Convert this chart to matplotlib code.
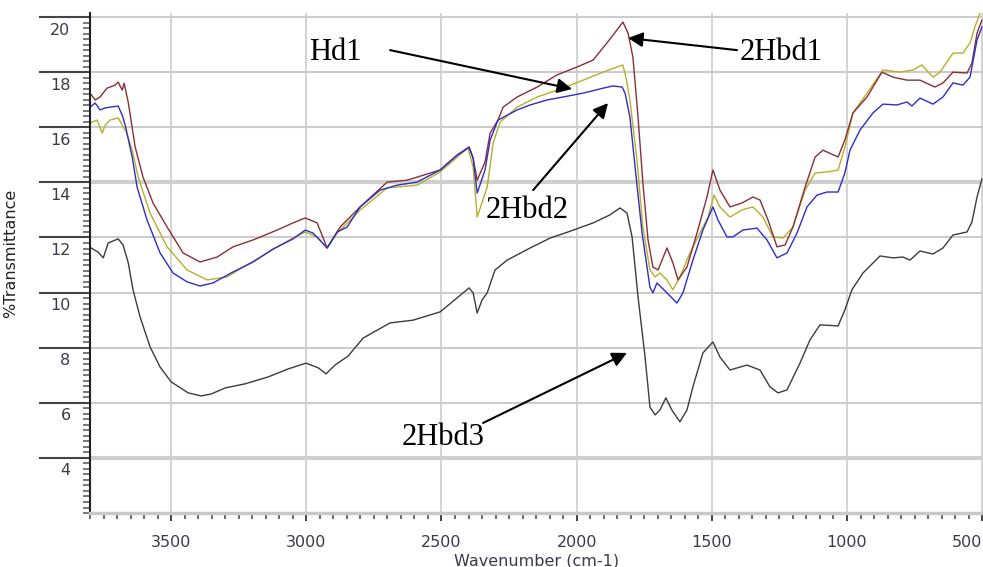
import numpy as np
import matplotlib.pyplot as plt
import matplotlib.transforms as mtransforms
from matplotlib.ticker import MultipleLocator

# Spectra (wavenumber cm-1, %T)
wn_2hbd1 = [3800, 3781, 3763, 3737, 3707, 3696, 3681, 3674, 3659, 3633, 3604, 3567, 3515, 3456, 3393,
            3330, 3271, 3197, 3108, 3049, 3004, 2960, 2923, 2875, 2801, 2701, 2627, 2505, 2442, 2398,
            2383, 2368, 2339, 2320, 2291, 2272, 2220, 2146, 2073, 1998, 1939, 1888, 1851, 1829, 1810,
            1792, 1773, 1755, 1736, 1718, 1699, 1666, 1644, 1625, 1592, 1555, 1518, 1496, 1470, 1433,
            1389, 1348, 1322, 1292, 1259, 1229, 1200, 1155, 1118, 1089, 1033, 1008, 978, 926, 871,
            830, 778, 730, 675, 645, 608, 556, 538, 519, 501]
t_2hbd1 = [17.24, 16.99, 17.10, 17.42, 17.53, 17.64, 17.35, 17.60, 16.92, 15.28, 14.19, 13.25, 12.38, 11.44, 11.11,
           11.29, 11.66, 11.91, 12.27, 12.53, 12.71, 12.53, 11.62, 12.38, 13.11, 14.01, 14.08, 14.45, 14.99, 15.28,
           14.88, 14.08, 14.74, 15.79, 16.26, 16.73, 17.10, 17.46, 17.90, 18.19, 18.44, 19.06, 19.53, 19.82, 19.42,
           18.55, 16.37, 13.98, 11.91, 10.93, 10.82, 11.62, 11.08, 10.46, 10.93, 12.16, 13.47, 14.45, 13.72, 13.11,
           13.25, 13.47, 13.36, 12.63, 11.66, 11.73, 12.38, 13.83, 14.92, 15.17, 14.92, 15.54, 16.52, 17.10, 18.00,
           17.82, 17.71, 17.71, 17.46, 17.61, 18.00, 17.97, 18.33, 19.42, 19.89]

wn_hd1 = [3800, 3774, 3755, 3744, 3726, 3696, 3681, 3666, 3644, 3622, 3578, 3515, 3441, 3367, 3293,
          3208, 3108, 3049, 3004, 2960, 2923, 2886, 2801, 2701, 2590, 2505, 2402, 2383, 2368, 2331,
          2309, 2283, 2220, 2146, 2050, 1976, 1902, 1851, 1829, 1818, 1803, 1777, 1755, 1729, 1710,
          1692, 1666, 1644, 1618, 1581, 1544, 1514, 1492, 1470, 1433, 1389, 1348, 1311, 1274, 1237,
          1200, 1155, 1118, 1074, 1033, 1008, 978, 926, 867, 804, 756, 723, 682, 656, 608,
          571, 545, 527, 508, 496]
t_hd1 = [16.15, 16.26, 15.79, 16.08, 16.26, 16.34, 16.08, 15.83, 15.17, 14.19, 12.89, 11.66, 10.82, 10.46, 10.57,
         11.07, 11.66, 11.98, 12.20, 12.02, 11.62, 12.16, 13.00, 13.80, 13.90, 14.38, 15.25, 14.56, 12.74, 13.83,
         15.43, 16.19, 16.73, 17.10, 17.42, 17.71, 18.00, 18.19, 18.26, 17.82, 16.99, 14.81, 12.38, 10.82, 10.57,
         10.71, 10.46, 10.10, 10.57, 11.44, 12.16, 12.74, 13.54, 13.11, 12.74, 13.00, 13.11, 12.74, 12.02, 11.98,
         12.38, 13.72, 14.34, 14.38, 14.45, 15.28, 16.52, 17.24, 18.08, 18.00, 18.08, 18.26, 17.82, 18.00, 18.69,
         18.69, 19.06, 19.64, 20.15, 20.60]

wn_2hbd2 = [3800, 3781, 3763, 3745, 3726, 3696, 3681, 3670, 3644, 3626, 3589, 3541, 3493, 3441, 3393,
            3345, 3271, 3197, 3123, 3049, 3004, 2975, 2923, 2886, 2849, 2801, 2727, 2664, 2590, 2505,
            2442, 2398, 2383, 2368, 2339, 2320, 2291, 2220, 2172, 2110, 2050, 1976, 1902, 1866, 1832,
            1821, 1803, 1784, 1758, 1729, 1718, 1703, 1666, 1629, 1607, 1570, 1533, 1496, 1477, 1444,
            1422, 1385, 1333, 1296, 1259, 1222, 1185, 1148, 1111, 1074, 1033, 1008, 989, 952, 904,
            867, 815, 778, 760, 730, 682, 645, 608, 571, 545, 519, 501]
t_2hbd2 = [16.73, 16.88, 16.63, 16.70, 16.73, 16.77, 16.44, 16.08, 14.92, 13.83, 12.63, 11.44, 10.71, 10.39, 10.24,
           10.35, 10.75, 11.11, 11.58, 11.95, 12.27, 12.16, 11.62, 12.20, 12.38, 13.11, 13.72, 13.90, 14.01, 14.45,
           14.99, 15.28, 14.88, 13.61, 14.45, 15.54, 16.26, 16.63, 16.81, 16.99, 17.10, 17.24, 17.42, 17.50, 17.46,
           17.24, 16.37, 14.56, 12.16, 10.20, 9.99, 10.35, 9.99, 9.62, 9.99, 11.18, 12.27, 13.11, 12.63, 12.02,
           12.02, 12.27, 12.34, 11.91, 11.26, 11.44, 12.16, 13.11, 13.54, 13.65, 13.65, 14.34, 15.17, 15.90, 16.52,
           16.84, 16.81, 16.92, 16.77, 17.06, 16.84, 17.10, 17.61, 17.53, 17.82, 19.17, 19.64]

wn_2hbd3 = [3796, 3770, 3751, 3733, 3696, 3678, 3659, 3641, 3615, 3578, 3541, 3500, 3437, 3389, 3352,
            3300, 3226, 3141, 3067, 3001, 2956, 2927, 2894, 2845, 2790, 2690, 2605, 2505, 2442, 2398,
            2383, 2368, 2350, 2331, 2302, 2257, 2172, 2098, 2032, 1939, 1877, 1840, 1814, 1795, 1773,
            1747, 1729, 1710, 1692, 1670, 1648, 1618, 1592, 1570, 1533, 1496, 1470, 1433, 1370, 1322,
            1285, 1255, 1222, 1174, 1137, 1100, 1033, 1008, 982, 941, 878, 830, 793, 767, 730,
            682, 645, 608, 556, 538, 519, 501]
t_2hbd3 = [11.62, 11.47, 11.26, 11.80, 11.95, 11.73, 11.10, 10.10, 9.12, 8.03, 7.30, 6.76, 6.36, 6.25, 6.32,
           6.54, 6.69, 6.94, 7.23, 7.44, 7.27, 7.05, 7.37, 7.70, 8.35, 8.90, 9.00, 9.30, 9.81, 10.17,
           9.99, 9.26, 9.73, 9.99, 10.82, 11.18, 11.62, 11.98, 12.20, 12.53, 12.82, 13.07, 12.89, 12.02, 9.84,
           7.66, 5.85, 5.56, 5.74, 6.18, 5.74, 5.31, 5.74, 6.58, 7.81, 8.21, 7.66, 7.19, 7.37, 7.19,
           6.58, 6.36, 6.47, 7.44, 8.28, 8.83, 8.79, 9.37, 10.10, 10.71, 11.33, 11.26, 11.29, 11.18, 11.51,
           11.40, 11.62, 12.09, 12.20, 12.56, 13.47, 14.12]

x_ticks = [3500, 3000, 2500, 2000, 1500, 1000, 500]
y_ticks = [4, 6, 8, 10, 12, 14, 16, 18, 20]

fig = plt.figure(figsize=(9.83, 5.67), dpi=100)
ax = fig.add_axes([0.0916, 0.0952, 0.9084, 0.882])

txt_col = '#3a3a4a'
grid_col = '#cccccc'

# grid
for xv in x_ticks:
    ax.axvline(xv, color=grid_col, lw=1.2, zorder=0)
for yv in y_ticks:
    thick = yv in (4, 14)
    ax.axhline(yv, color='#cfcfcf' if thick else grid_col, lw=3 if thick else 1.5, zorder=0)

ax.plot(wn_2hbd3, t_2hbd3, color='#3c3c3c', lw=1.0)
ax.plot(wn_hd1, t_hd1, color='#b5b02a', lw=1.0)
ax.plot(wn_2hbd1, t_2hbd1, color='#8b2f35', lw=1.0)
ax.plot(wn_2hbd2, t_2hbd2, color='#2e2ec8', lw=1.0)

ax.set_xlim(3800, 497)
ax.set_ylim(2, 20.15)

ax.set_xticks(x_ticks)
ax.xaxis.set_minor_locator(MultipleLocator(50))
ax.set_yticks(y_ticks)
ax.yaxis.set_minor_locator(MultipleLocator(0.2))

ax.tick_params(axis='x', which='major', length=6, width=1.3, color='#333333',
               labelsize=11.5, labelcolor=txt_col, pad=10)
ax.tick_params(axis='x', which='minor', length=4, width=1.1, color='#444444')
ax.tick_params(axis='y', which='major', length=37, width=1.5, color='#444444',
               labelsize=11.5, labelcolor=txt_col, pad=-23)
ax.tick_params(axis='y', which='minor', length=5, width=1.1, color='#555555')
shift = mtransforms.ScaledTranslation(0, -4 / 72, fig.dpi_scale_trans)
for lbl in ax.get_yticklabels():
    lbl.set_verticalalignment('top')
    lbl.set_transform(lbl.get_transform() + shift)
# last x label sits at the right edge, keep it inside
ax.get_xticklabels()[-1].set_horizontalalignment('right')

for s in ('top', 'right'):
    ax.spines[s].set_visible(False)
ax.spines['left'].set_color('#222222')
ax.spines['left'].set_linewidth(1.5)
ax.spines['bottom'].set_color('#c8c8c8')
ax.spines['bottom'].set_linewidth(2.5)

ax.set_xlabel('Wavenumber (cm-1)', fontsize=11.5, color=txt_col, labelpad=2)
ax.set_ylabel('%Transmittance', fontsize=11.5, color='#222222')
ax.yaxis.set_label_coords(-0.081, 0.52)

# annotations
serif = dict(fontsize=22, family='Liberation Serif', color='black', ha='center', va='baseline')
arr = dict(arrowstyle='-|>', mutation_scale=22, lw=1.5, color='black', shrinkA=0, shrinkB=0)

ax.text(2894, 18.44, 'Hd1', **serif)
ax.annotate('', xy=(2017, 17.39), xytext=(2690, 18.80), arrowprops=arr)

ax.text(1244, 18.44, '2Hbd1', **serif)
ax.annotate('', xy=(1810, 19.24), xytext=(1407, 18.80), arrowprops=arr)

ax.text(2183, 12.71, '2Hbd2', **serif)
ax.annotate('', xy=(1884, 16.88), xytext=(2161, 13.72), arrowprops=arr)

ax.text(2494, 4.47, '2Hbd3', **serif)
ax.annotate('', xy=(1814, 7.81), xytext=(2346, 5.27), arrowprops=arr)

fig.savefig('out.png', dpi=100)
